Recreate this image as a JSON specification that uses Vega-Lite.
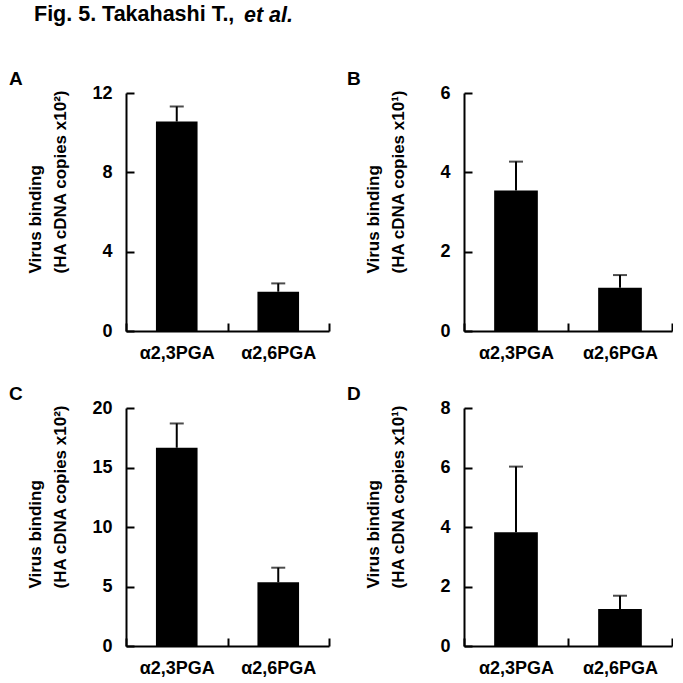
{
  "$schema": "https://vega.github.io/schema/vega-lite/v6.json",
  "padding": {"left": 9, "top": 4, "right": 0, "bottom": 0},
  "background": "white",
  "title": {"text": "Fig. 5. Takahashi T.,", "anchor": "start", "frame": "group", "dx": -92, "fontSize": 21.5, "fontWeight": "bold", "font": "Liberation Sans", "color": "black", "baseline": "alphabetic", "offset": -38},
  "datasets": {
    "A": [{"group": "α2,3PGA", "value": 10.56, "upper": 11.32}, {"group": "α2,6PGA", "value": 1.98, "upper": 2.4}],
    "B": [{"group": "α2,3PGA", "value": 3.54, "upper": 4.27}, {"group": "α2,6PGA", "value": 1.09, "upper": 1.41}],
    "C": [{"group": "α2,3PGA", "value": 16.66, "upper": 18.7}, {"group": "α2,6PGA", "value": 5.35, "upper": 6.58}],
    "D": [{"group": "α2,3PGA", "value": 3.82, "upper": 6.03}, {"group": "α2,6PGA", "value": 1.24, "upper": 1.69}]
  },
  "bounds": "flush",
  "vconcat": [
    {
      "title": {"text": "et al.", "anchor": "start", "frame": "group", "dx": 118, "fontSize": 21.5, "fontWeight": "bold", "fontStyle": "italic", "font": "Liberation Sans", "color": "black", "baseline": "alphabetic", "offset": 27},
      "concat": [
        {
          "width": 203, "height": 238,
          "title": {"text": "A", "dx": -117},
          "data": {"name": "A"},
          "encoding": {"x": {"field": "group", "type": "nominal", "sort": null, "scale": {"paddingInner": 0, "paddingOuter": 0}, "axis": {"title": null}}},
          "layer": [
            {"mark": {"type": "bar", "width": {"band": 0.41}, "color": "black"}, "encoding": {"y": {"field": "value", "type": "quantitative", "scale": {"domain": [0, 12]}, "axis": {"values": [0, 4, 8, 12], "title": ["Virus binding", "(HA cDNA copies x10²)"]}}}},
            {"mark": {"type": "rule", "color": "black", "strokeWidth": 2}, "encoding": {"y": {"field": "value", "type": "quantitative"}, "y2": {"field": "upper"}}},
            {"mark": {"type": "tick", "color": "black", "thickness": 2, "size": 14}, "encoding": {"y": {"field": "upper", "type": "quantitative"}}}
          ]
        },
        {
          "width": 208, "height": 238,
          "title": {"text": "B", "dx": -117},
          "data": {"name": "B"},
          "encoding": {"x": {"field": "group", "type": "nominal", "sort": null, "scale": {"paddingInner": 0, "paddingOuter": 0}, "axis": {"title": null}}},
          "layer": [
            {"mark": {"type": "bar", "width": {"band": 0.42}, "color": "black"}, "encoding": {"y": {"field": "value", "type": "quantitative", "scale": {"domain": [0, 6]}, "axis": {"values": [0, 2, 4, 6], "title": ["Virus binding", "(HA cDNA copies x10¹)"]}}}},
            {"mark": {"type": "rule", "color": "black", "strokeWidth": 2}, "encoding": {"y": {"field": "value", "type": "quantitative"}, "y2": {"field": "upper"}}},
            {"mark": {"type": "tick", "color": "black", "thickness": 2, "size": 14}, "encoding": {"y": {"field": "upper", "type": "quantitative"}}}
          ]
        },
        {
          "width": 203, "height": 238,
          "title": {"text": "C", "dx": -117},
          "data": {"name": "C"},
          "encoding": {"x": {"field": "group", "type": "nominal", "sort": null, "scale": {"paddingInner": 0, "paddingOuter": 0}, "axis": {"title": null}}},
          "layer": [
            {"mark": {"type": "bar", "width": {"band": 0.41}, "color": "black"}, "encoding": {"y": {"field": "value", "type": "quantitative", "scale": {"domain": [0, 20]}, "axis": {"values": [0, 5, 10, 15, 20], "title": ["Virus binding", "(HA cDNA copies x10²)"]}}}},
            {"mark": {"type": "rule", "color": "black", "strokeWidth": 2}, "encoding": {"y": {"field": "value", "type": "quantitative"}, "y2": {"field": "upper"}}},
            {"mark": {"type": "tick", "color": "black", "thickness": 2, "size": 14}, "encoding": {"y": {"field": "upper", "type": "quantitative"}}}
          ]
        },
        {
          "width": 208, "height": 238,
          "title": {"text": "D", "dx": -117},
          "data": {"name": "D"},
          "encoding": {"x": {"field": "group", "type": "nominal", "sort": null, "scale": {"paddingInner": 0, "paddingOuter": 0}, "axis": {"title": null}}},
          "layer": [
            {"mark": {"type": "bar", "width": {"band": 0.42}, "color": "black"}, "encoding": {"y": {"field": "value", "type": "quantitative", "scale": {"domain": [0, 8]}, "axis": {"values": [0, 2, 4, 6, 8], "title": ["Virus binding", "(HA cDNA copies x10¹)"]}}}},
            {"mark": {"type": "rule", "color": "black", "strokeWidth": 2}, "encoding": {"y": {"field": "value", "type": "quantitative"}, "y2": {"field": "upper"}}},
            {"mark": {"type": "tick", "color": "black", "thickness": 2, "size": 14}, "encoding": {"y": {"field": "upper", "type": "quantitative"}}}
          ]
        }
      ],
      "columns": 2,
      "spacing": {"row": 77, "column": 135},
      "bounds": "flush"
    }
  ],
  "config": {
    "font": "Liberation Sans",
    "view": {"stroke": null},
    "title": {"anchor": "start", "frame": "group", "fontSize": 19, "fontWeight": "bold", "color": "black", "offset": -5, "baseline": "alphabetic"},
    "axis": {
      "grid": false,
      "domainColor": "black", "domainWidth": 2,
      "tickColor": "black", "tickWidth": 2, "tickSize": -8,
      "labelFontSize": 18, "labelFontWeight": "bold", "labelColor": "black",
      "titleFontSize": 17, "titleFontWeight": "bold", "titleColor": "black"
    },
    "axisX": {"tickBand": "extent", "labelAngle": 0, "labelPadding": 21},
    "axisY": {"labelPadding": 22, "titleAlign": "left", "titleBaseline": "bottom", "titleX": -82, "titleY": 180, "titleLineHeight": 25}
  }
}
